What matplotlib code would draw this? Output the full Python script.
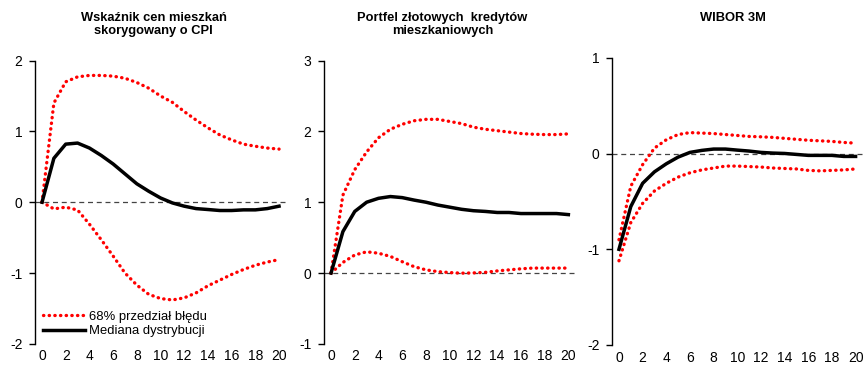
import matplotlib
matplotlib.use("Agg")
import matplotlib.pyplot as plt
from matplotlib.lines import Line2D

plt.rcParams['font.family'] = ['Liberation Sans', 'DejaVu Sans']
plt.rcParams['axes.unicode_minus'] = False

horizon = list(range(21))

titles = ["Wskaźnik cen mieszkań\nskorygowany o CPI",
          "Portfel złotowych  kredytów\nmieszkaniowych",
          "WIBOR 3M"]

p1_median = [0, 0.62, 0.82, 0.835, 0.765, 0.66, 0.54, 0.40, 0.26, 0.155, 0.06,
             -0.01, -0.056, -0.09, -0.103, -0.117, -0.117, -0.108, -0.108, -0.09, -0.056]
p1_upper = [0, 1.40, 1.70, 1.77, 1.79, 1.79, 1.78, 1.75, 1.69, 1.61, 1.50,
            1.41, 1.28, 1.16, 1.05, 0.95, 0.88, 0.82, 0.79, 0.765, 0.75]
p1_lower = [0, -0.094, -0.07, -0.11, -0.31, -0.53, -0.76, -1.0, -1.17, -1.30, -1.36,
            -1.38, -1.35, -1.28, -1.18, -1.10, -1.02, -0.95, -0.89, -0.845, -0.81]

p2_median = [0, 0.585, 0.87, 1.0, 1.055, 1.08, 1.065, 1.03, 1.0, 0.96, 0.93,
             0.90, 0.88, 0.87, 0.855, 0.855, 0.84, 0.84, 0.84, 0.84, 0.825]
p2_upper = [0, 1.10, 1.46, 1.71, 1.91, 2.03, 2.10, 2.15, 2.17, 2.17, 2.14,
            2.11, 2.06, 2.03, 2.01, 1.99, 1.97, 1.96, 1.955, 1.955, 1.965]
p2_lower = [0, 0.15, 0.255, 0.30, 0.28, 0.235, 0.16, 0.09, 0.045, 0.02, 0.007,
            -0.002, 0.002, 0.01, 0.03, 0.045, 0.06, 0.07, 0.07, 0.07, 0.07]

p3_median = [-1.0, -0.553, -0.31, -0.19, -0.106, -0.036, 0.013, 0.034, 0.048, 0.048, 0.037,
             0.027, 0.013, 0.006, 0.002, -0.008, -0.018, -0.018, -0.018, -0.029, -0.029]
p3_upper = [-0.90, -0.34, -0.115, 0.058, 0.145, 0.20, 0.22, 0.215, 0.21, 0.20, 0.19,
            0.18, 0.176, 0.17, 0.16, 0.15, 0.14, 0.134, 0.128, 0.117, 0.11]
p3_lower = [-1.12, -0.72, -0.52, -0.39, -0.31, -0.245, -0.20, -0.17, -0.15, -0.13, -0.13,
            -0.135, -0.14, -0.15, -0.155, -0.16, -0.175, -0.18, -0.175, -0.17, -0.16]

ylims = [(-2, 2), (-1, 3), (-2, 1)]
yticks = [[-2, -1, 0, 1, 2], [-1, 0, 1, 2, 3], [-2, -1, 0, 1]]
xticks = list(range(0, 21, 2))

legend_labels = ["68% przedział błędu", "Mediana dystrybucji"]

fig = plt.figure(figsize=(8.65, 3.67), dpi=100)
W, H = 865, 367
positions = [
    [0.0405, 0.063, 0.291, 0.772],
    [0.3746, 0.063, 0.2914, 0.772],
    [0.7075, 0.060, 0.2905, 0.782],
]
title_x = [153.5, 442.5, 733]
data = [(p1_median, p1_upper, p1_lower),
        (p2_median, p2_upper, p2_lower),
        (p3_median, p3_upper, p3_lower)]

red = '#ff0000'
dot = (0, (0.1, 1.6))
for i, (pos, (med, up, lo)) in enumerate(zip(positions, data)):
    ax = fig.add_axes(pos)
    ax.axhline(0, color='#444444', lw=0.9, ls=(0, (4, 3)), zorder=1)
    ax.plot(horizon, up, color=red, lw=2.4, ls=dot, dash_capstyle='round', zorder=2)
    ax.plot(horizon, lo, color=red, lw=2.4, ls=dot, dash_capstyle='round', zorder=2)
    ax.plot(horizon, med, color='black', lw=2.5, zorder=3)
    ax.set_xlim(-0.59, 20.65)
    ax.set_ylim(*ylims[i])
    ax.set_yticks(yticks[i])
    ax.set_xticks(xticks)
    for s in ['top', 'right', 'bottom']:
        ax.spines[s].set_visible(False)
    ax.spines['left'].set_linewidth(1.0)
    ax.tick_params(axis='y', direction='out', length=4, width=1.0, labelsize=10, pad=5)
    ax.tick_params(axis='x', length=0, labelsize=10, pad=4)
    fig.text(title_x[i] / W, 1 - 12 / H, titles[i], fontsize=9.3, fontweight='bold',
             ha='center', va='top', linespacing=1.15)
    if i == 0:
        handles = [Line2D([], [], color=red, lw=2.4, ls=dot, dash_capstyle='round'),
                   Line2D([], [], color='black', lw=2.5)]
        ax.legend(handles, legend_labels, loc='lower left', frameon=False,
                  fontsize=9.4, handlelength=3.2, borderpad=0.1, labelspacing=0.2,
                  handletextpad=0.3, bbox_to_anchor=(0.0, -0.005))

fig.savefig("out.png", dpi=100)
